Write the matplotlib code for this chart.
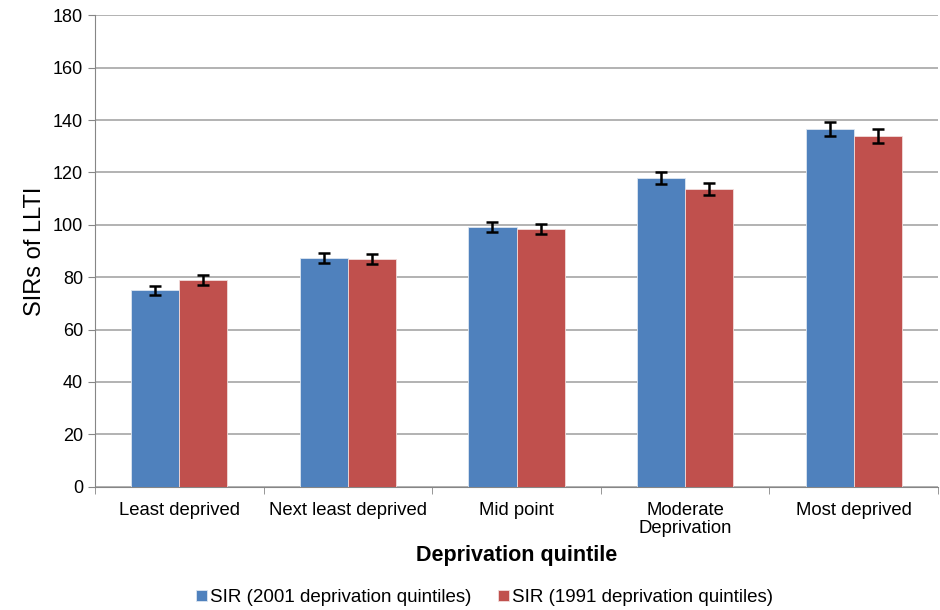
import numpy as np
import matplotlib
matplotlib.use("Agg")
import matplotlib.pyplot as plt

plt.rcParams["font.family"] = ["Liberation Sans", "DejaVu Sans"]

#Chart data
categories = ["Least deprived", "Next least deprived", "Mid point", "Moderate\nDeprivation", "Most deprived"]
sir_2001 = [75.1, 87.3, 99.2, 117.8, 136.5]
sir_1991 = [79.0, 87.0, 98.4, 113.7, 133.9]
err_2001 = [1.7, 1.8, 2.0, 2.3, 2.6]
err_1991 = [1.8, 1.8, 2.0, 2.3, 2.6]

fig = plt.figure(figsize=(9.4, 6.1), dpi=100)
ax = fig.add_axes([0.101, 0.202, 0.897, 0.773])

x = np.arange(len(categories))
w = 0.285
err_kw = dict(ecolor="black", elinewidth=1.8, capsize=4, capthick=1.8)
ax.bar(x - w / 2, sir_2001, w, yerr=err_2001, color="#4F81BD", edgecolor="#DCE6F1",
       linewidth=0.6, error_kw=err_kw, label="SIR (2001 deprivation quintiles)", zorder=3)
ax.bar(x + w / 2, sir_1991, w, yerr=err_1991, color="#C0504D", edgecolor="#F2DCDB",
       linewidth=0.6, error_kw=err_kw, label="SIR (1991 deprivation quintiles)", zorder=3)

ax.set_xlim(-0.5, len(categories) - 0.5)
ax.set_ylim(0, 180)
ax.set_yticks(range(0, 181, 20))
ax.yaxis.grid(True, color="#A6A6A6", linewidth=1.2, zorder=0)
ax.set_axisbelow(True)

ax.set_xticks(x)
ax.set_xticklabels(categories, fontsize=13.3, linespacing=1.05)
ax.tick_params(axis="x", length=0, pad=11)
ax.set_xticks(np.arange(-0.5, len(categories)), minor=True)
ax.tick_params(axis="x", which="minor", length=5, color="#868686")
ax.tick_params(axis="y", labelsize=13, length=5, color="#868686")

for s in ["top", "right"]:
    ax.spines[s].set_visible(False)
ax.spines["left"].set_color("#868686")
ax.spines["bottom"].set_color("#868686")

ax.set_ylabel("SIRs of LLTI", fontsize=17, labelpad=5)
ax.set_xlabel("Deprivation quintile", fontsize=15.5, fontweight="bold", labelpad=6)

ax.legend(loc="center", bbox_to_anchor=(0.462, -0.235), ncol=2, frameon=False,
          fontsize=13.5, handlelength=0.6, handleheight=0.6, handletextpad=0.15, columnspacing=1.4)

plt.savefig("out.png", dpi=100)
plt.close()
